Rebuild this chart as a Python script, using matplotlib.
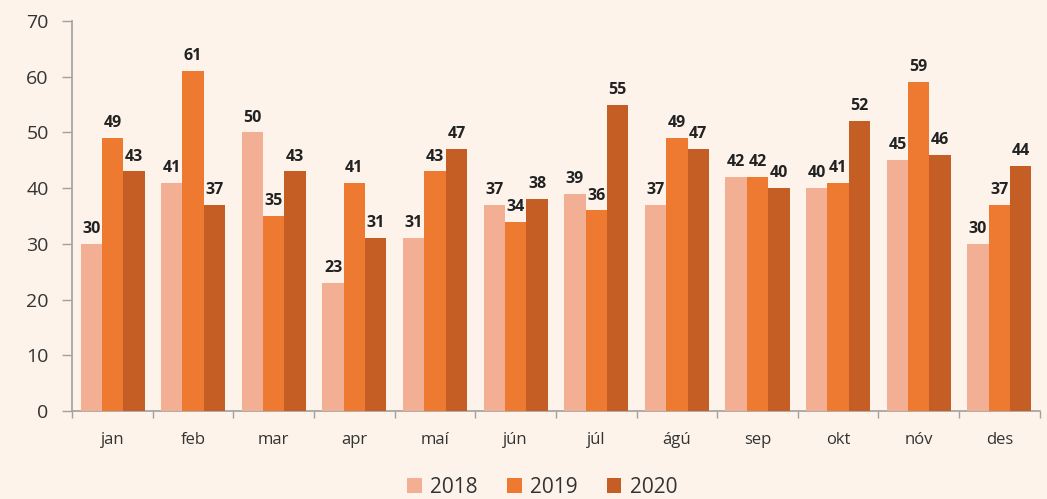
import numpy as np
import matplotlib.pyplot as plt
from matplotlib import rcParams

rcParams['font.family'] = 'Open Sans'

BG = '#FDF3EA'
C2018 = '#F2AF94'
C2019 = '#ED7A30'
C2020 = '#C55E24'
WIDTH = 0.265

months = ['jan', 'feb', 'mar', 'apr', 'maí', 'jún', 'júl', 'ágú', 'sep', 'okt', 'nóv', 'des']
v2018 = [30, 41, 50, 23, 31, 37, 39, 37, 42, 40, 45, 30]
v2019 = [49, 61, 35, 41, 43, 34, 36, 49, 42, 41, 59, 37]
v2020 = [43, 37, 43, 31, 47, 38, 55, 47, 40, 52, 46, 44]
years = ['2018', '2019', '2020']

fig = plt.figure(figsize=(10.47, 4.99), dpi=100, facecolor=BG)
ax = fig.add_axes([0.069, 0.176, 0.924, 0.782], facecolor=BG)

x = np.arange(len(months))
series = [(v2018, C2018), (v2019, C2019), (v2020, C2020)]
for i, ((vals, col), yr) in enumerate(zip(series, years)):
    bars = ax.bar(x + (i - 1) * WIDTH, vals, WIDTH, color=col, label=yr,
                  linewidth=0, zorder=3)
    for b in bars:
        ax.annotate(f'{int(b.get_height())}',
                    (b.get_x() + b.get_width() / 2, b.get_height()),
                    xytext=(0, 5), textcoords='offset points',
                    ha='center', va='bottom', fontsize=11.5,
                    fontweight='bold', color='#222222', zorder=4)

ax.set_xlim(-0.5, len(months) - 0.5)
ax.set_ylim(0, 70)
ax.set_yticks(range(0, 71, 10))
ax.set_xticks(x)
ax.set_xticklabels(months, fontsize=12, color='#333333')
ax.set_xticks(np.arange(-0.5, len(months), 1), minor=True)
ax.tick_params(axis='x', which='major', length=0, pad=15)
ax.tick_params(axis='x', which='minor', length=5, color='#A0A0A0', width=1)
ax.tick_params(axis='y', length=7, color='#A0A0A0', width=1,
               labelsize=14, labelcolor='#333333', pad=10)

for s in ['top', 'right']:
    ax.spines[s].set_visible(False)
for s in ['left', 'bottom']:
    ax.spines[s].set_color('#A0A0A0')
    ax.spines[s].set_linewidth(1.2)

leg = fig.legend(loc='lower center', bbox_to_anchor=(0.518, -0.035), ncol=3,
                 frameon=False, fontsize=15, handlelength=0.7,
                 handleheight=0.7, handletextpad=0.4, columnspacing=1.4)
for t in leg.get_texts():
    t.set_color('#333333')

fig.savefig('out.png', dpi=100, facecolor=BG)
